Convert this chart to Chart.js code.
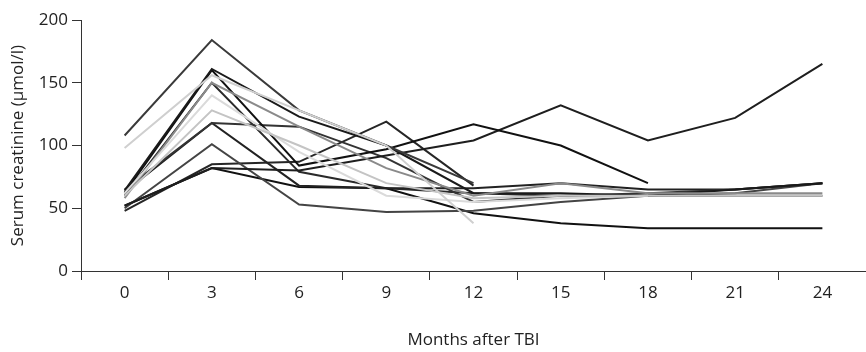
<!DOCTYPE html>
<html>
<head>
<meta charset="utf-8">
<script src="https://cdn.jsdelivr.net/npm/chart.js@4/dist/chart.umd.min.js"></script>
<style>
  html, body { margin: 0; padding: 0; background: #fff; }
  #wrap { width: 866px; height: 352px; }
</style>
</head>
<body>
<div id="wrap"><canvas id="chart"></canvas></div>
<script>
// Months after TBI (category labels)
const months = ['0', '3', '6', '9', '12', '15', '18', '21', '24'];
const yTicks = [0, 50, 100, 150, 200];

// Serum creatinine per patient (µmol/l), null = no follow-up
const patient1 = [108, 184, 128, 100, 70, null, null, null, null];
const patient2 = [64, 161, 123, 100, 62, 62, 60, 65, 70];
const patient3 = [62, 160, 84, 97, 117, 100, 70, null, null];
const patient4 = [52, 82, 80, 92, 104, 132, 104, 122, 165];
const patient5 = [65, 118, 115, 90, 55, 60, 62, 65, 70];
const patient6 = [63, 118, 68, 66, 66, 70, 65, 65, 70];
const patient7 = [50, 101, 53, 47, 48, 55, 60, 62, 70];
const patient8 = [52, 82, 67, 66, 46, 38, 34, 34, 34];
const patient9 = [60, 150, 79, 66, 62, 60, 60, 60, 60];
const patient10 = [48, 85, 87, 119, 68, null, null, null, null];
const patient11 = [98, 156, 128, 100, 38, null, null, null, null];
const patient12 = [60, 128, 100, 70, 58, 60, 60, 60, 60];
const patient13 = [58, 150, 115, 82, 60, 70, 62, 62, 62];
const patient14 = [62, 140, 95, 60, 55, 58, 60, null, null];

const series = [
    { data: patient11, color: '#cfcfcf' },
    { data: patient12, color: '#c4c4c4' },
    { data: patient14, color: '#dadada' },
    { data: patient13, color: '#8a8a8a' },
    { data: patient1, color: '#3a3a3a' },
    { data: patient2, color: '#1a1a1a' },
    { data: patient3, color: '#111111' },
    { data: patient4, color: '#1e1e1e' },
    { data: patient5, color: '#333333' },
    { data: patient6, color: '#222222' },
    { data: patient7, color: '#444444' },
    { data: patient8, color: '#111111' },
    { data: patient9, color: '#2a2a2a' },
    { data: patient10, color: '#262626' }
];

const axisColor = '#333';
const font = { family: "'Open Sans', sans-serif", size: 17 };

new Chart(document.getElementById('chart'), {
    type: 'line',
    data: {
        labels: months,
        datasets: series.map(s => ({
            data: s.data,
            borderColor: s.color,
            borderWidth: 2,
            pointRadius: 0,
            fill: false,
            tension: 0,
            spanGaps: false
        }))
    },
    options: {
        responsive: true,
        maintainAspectRatio: false,
        animation: false,
        layout: { padding: { top: 20, right: 0, left: 0, bottom: 0 } },
        plugins: {
            legend: { display: false },
            tooltip: { enabled: false }
        },
        scales: {
            x: {
                offset: true,
                grid: {
                    offset: true,
                    drawOnChartArea: false,
                    drawTicks: true,
                    tickLength: 9,
                    color: axisColor
                },
                border: { color: axisColor, width: 1 },
                ticks: { color: '#222', font: font, padding: 3, maxRotation: 0 },
                title: {
                    display: true,
                    text: 'Months after TBI',
                    color: '#222',
                    font: font,
                    padding: { top: 0, bottom: 2 }
                },
                afterFit: scale => { scale.height = 81; }
            },
            y: {
                min: 0,
                max: 200,
                afterBuildTicks: scale => { scale.ticks = yTicks.map(v => ({ value: v })); },
                grid: {
                    drawOnChartArea: false,
                    drawTicks: true,
                    tickLength: 9,
                    color: axisColor
                },
                border: { color: axisColor, width: 1 },
                ticks: { color: '#222', font: font, padding: 4 },
                title: {
                    display: true,
                    text: 'Serum creatinine (µmol/l)',
                    color: '#222',
                    font: font,
                    padding: { top: 8, bottom: 0 }
                },
                afterFit: scale => { scale.width = 81; }
            }
        }
    }
});
</script>
</body>
</html>
